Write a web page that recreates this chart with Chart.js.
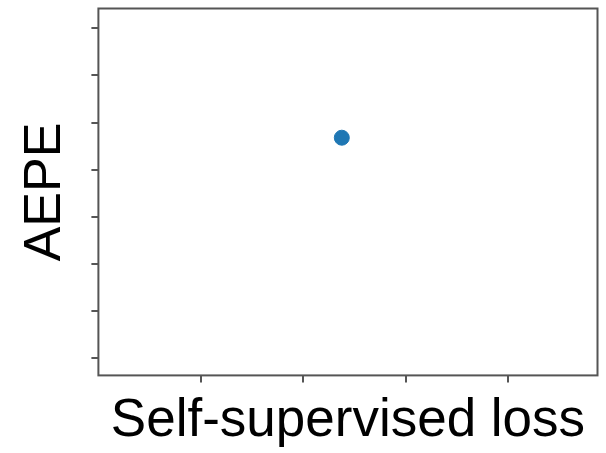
<!DOCTYPE html>
<html>
<head>
<meta charset="utf-8">
<script src="https://cdn.jsdelivr.net/npm/chart.js@4.4.0/dist/chart.umd.min.js"></script>
<style>
  html, body { margin: 0; padding: 0; background: #fff; }
  #wrap { position: relative; width: 606px; height: 453px; }
</style>
</head>
<body>
<div id="wrap"><canvas id="chart"></canvas></div>
<script>
// data (axes carry no numbers, only tick marks)
const xTicks = [1, 2, 3, 4];
const yTicks = [1, 2, 3, 4, 5, 6, 7, 8];
const xValues = [2.375];
const yValues = [5.68];
const xTitle = 'Self-supervised loss';
const yTitle = 'AEPE';

const axisColor = '#555555';

// box round the plot area
const frame = {
    id: 'frame',
    afterDraw(chart) {
        const { ctx, chartArea: a } = chart;
        ctx.save();
        ctx.strokeStyle = axisColor;
        ctx.lineWidth = 2;
        ctx.strokeRect(a.left, a.top, a.right - a.left, a.bottom - a.top);
        ctx.restore();
    }
};

const ctx = document.getElementById('chart').getContext('2d');

new Chart(ctx, {
    type: 'scatter',
    data: {
        datasets: [{
            data: xValues.map((x, i) => ({ x: x, y: yValues[i] })),
            backgroundColor: '#1f77b4',
            borderColor: '#1f77b4',
            pointRadius: 7.5,
            pointHoverRadius: 7.5,
        }],
    },
    options: {
        responsive: true,
        maintainAspectRatio: false,
        animation: false,
        layout: { padding: { top: 5, right: 5, left: 0, bottom: 0 } },
        plugins: {
            legend: { display: false },
            tooltip: { enabled: false },
        },
        scales: {
            x: {
                type: 'linear',
                min: 0,
                max: 4.87,
                afterBuildTicks: (s) => { s.ticks = xTicks.map(v => ({ value: v })); },
                ticks: { display: false },
                grid: {
                    drawOnChartArea: false,
                    drawTicks: true,
                    tickLength: 7,
                    color: axisColor,
                    lineWidth: 2,
                },
                border: { display: false },
                title: {
                    display: true,
                    text: xTitle,
                    color: '#000',
                    font: { family: 'Liberation Sans, Arial, sans-serif', size: 53, lineHeight: 1.2 },
                    padding: { top: 7, bottom: 0 },
                },
            },
            y: {
                type: 'linear',
                min: 0.64,
                max: 8.42,
                afterBuildTicks: (s) => { s.ticks = yTicks.map(v => ({ value: v })); },
                ticks: { display: false },
                grid: {
                    drawOnChartArea: false,
                    drawTicks: true,
                    tickLength: 7,
                    color: axisColor,
                    lineWidth: 2,
                },
                border: { display: false },
                title: {
                    display: true,
                    text: yTitle,
                    color: '#000',
                    font: { family: 'Liberation Sans, Arial, sans-serif', size: 52, lineHeight: 1.2 },
                    padding: { top: 14, bottom: 15 },
                },
            },
        },
    },
    plugins: [frame],
});
</script>
</body>
</html>
